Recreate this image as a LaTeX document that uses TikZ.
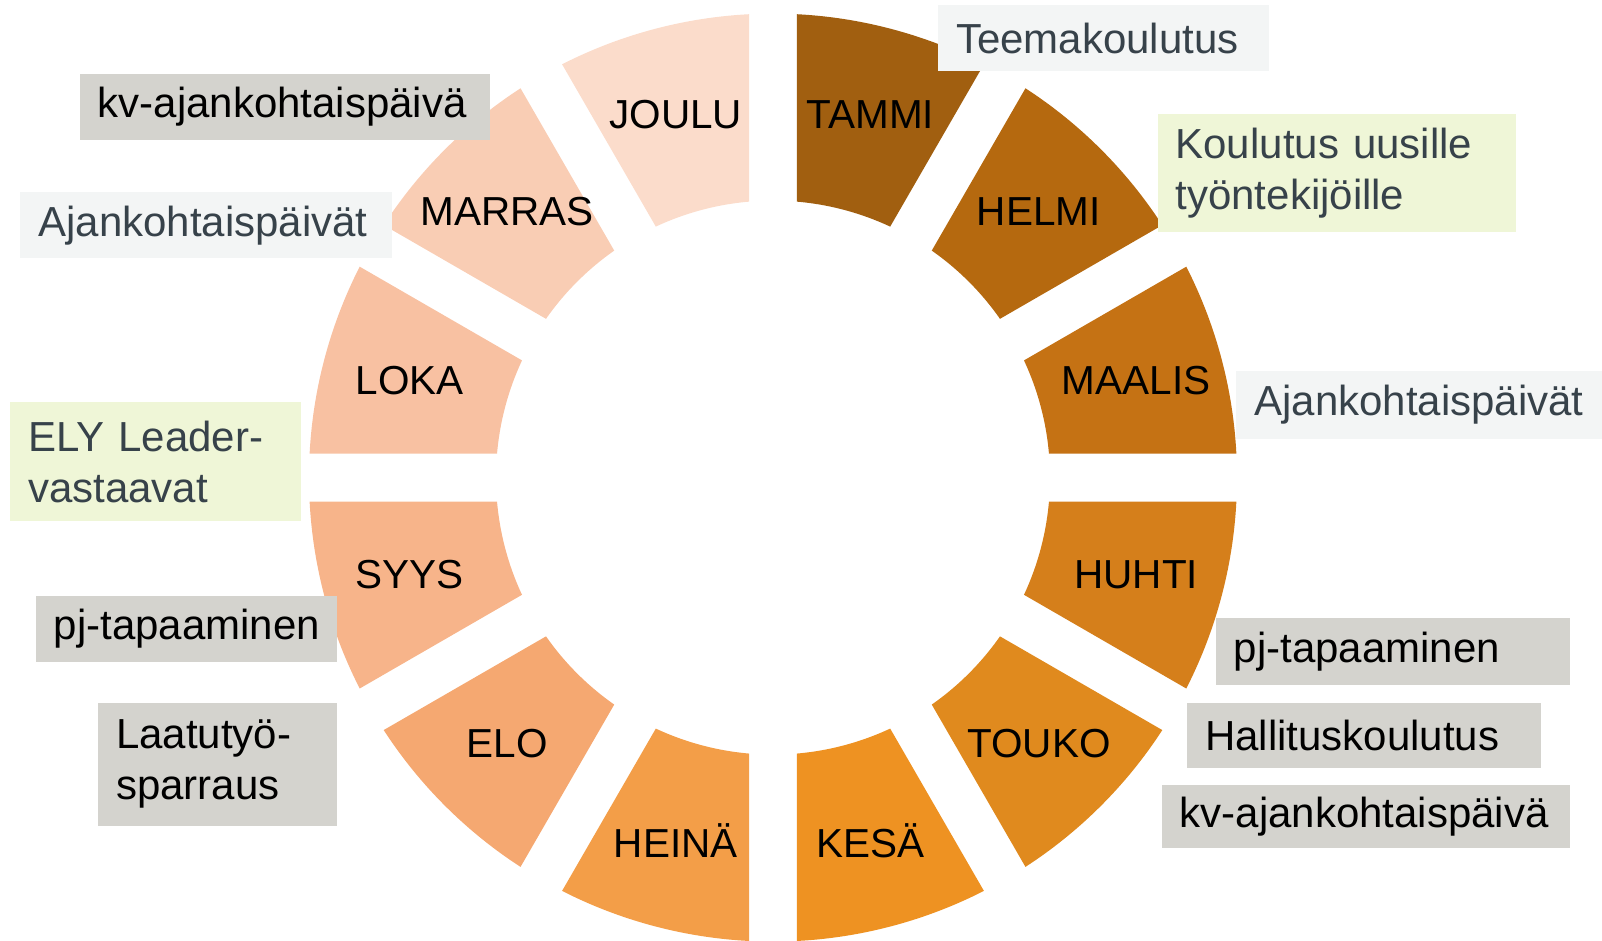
\documentclass[tikz,border=0pt]{standalone}
\usepackage{fontspec}
\setmainfont{Liberation Sans}
\usetikzlibrary{positioning}
\definecolor{mon1}{HTML}{A15F10}
\definecolor{mon2}{HTML}{B5690F}
\definecolor{mon3}{HTML}{C57214}
\definecolor{mon4}{HTML}{D57F1B}
\definecolor{mon5}{HTML}{E08A1E}
\definecolor{mon6}{HTML}{EE9222}
\definecolor{mon7}{HTML}{F39E48}
\definecolor{mon8}{HTML}{F5A871}
\definecolor{mon9}{HTML}{F7B48A}
\definecolor{mon10}{HTML}{F8C1A2}
\definecolor{mon11}{HTML}{F9CDB4}
\definecolor{mon12}{HTML}{FBDCCB}
\definecolor{notegray}{HTML}{D4D3CE}
\definecolor{notepale}{HTML}{F3F5F5}
\definecolor{notegreen}{HTML}{EFF6D7}
\definecolor{slate}{HTML}{37424A}
\exhyphenpenalty=10000
\hyphenpenalty=10000

\begin{document}
\begin{tikzpicture}[x=1pt,y=1pt,every node/.style={outer sep=0pt},
 month/.style={font=\fontsize{40.5}{48}\selectfont,text=black,inner sep=0pt},
 note/.style={anchor=north west,inner xsep=18pt,inner ysep=0pt,align=left,
 font=\fontsize{42}{51}\selectfont},
 gray/.style={note,fill=notegray,text=black},
 pale/.style={note,fill=notepale,text=slate},
 green/.style={note,fill=notegreen,text=slate}]

 \useasboundingbox (-773,-463.4) rectangle (829,477.6);
 \def\Ro{464} \def\Ri{277} \def\Rm{376}
 \pgfmathsetmacro\dO{asin(24/\Ro)}
 \pgfmathsetmacro\dI{asin(24/\Ri)}

 % ring of months
 \foreach \X/\M in {1/TAMMI,2/HELMI,3/MAALIS,4/HUHTI,5/TOUKO,6/KESÄ,
  7/HEINÄ,8/ELO,9/SYYS,10/LOKA,11/MARRAS,12/JOULU}
 {\pgfmathsetmacro\As{120-30*\X}
  \pgfmathsetmacro\Ae{\As-30}
  \fill[mon\X] (\As-\dO:\Ro) arc[start angle=\As-\dO,end angle=\Ae+\dO,radius=\Ro]
   -- (\Ae+\dI:\Ri) arc[start angle=\Ae+\dI,end angle=\As-\dI,radius=\Ri] -- cycle;
  \node[month] (m\X) at (\As-15:\Rm) {\M};
 }

 % events
 \foreach \N/\S/\x/\y/\w/\h/\T in {
  n1/pale/165/472.5/331/66.4/{Teemakoulutus},
  n2/gray/-693.3/404/410.7/66.4/{kv-ajankohtaispäivä},
  n3/green/384.6/363.2/358.6/117.5/{Koulutus uusille\\työntekijöille},
  n4/pale/-752.6/285.6/371.9/66.5/{Ajankohtaispäivät},
  n5/pale/463.3/106.7/365.7/68.4/{Ajankohtaispäivät},
  n6/green/-762.8/75.1/291.2/118.5/{ELY Leader-\\vastaavat},
  n7/gray/-737.2/-118/301.4/66.4/{pj-tapaaminen},
  n8/gray/442.8/-140.5/354.6/66.4/{pj-tapaaminen},
  n9/gray/-674.9/-225.4/239.1/122.5/{Laatutyö-\\sparraus},
  n10/gray/414.2/-225.4/353.5/65.3/{Hallituskoulutus},
  n11/gray/388.7/-307.1/408.7/63.3/{kv-ajankohtaispäivä}}
 {\node[\S,minimum height=\h,text width=\w-36] (\N) at (\x,\y) {\T};}

\end{tikzpicture}
\end{document}
